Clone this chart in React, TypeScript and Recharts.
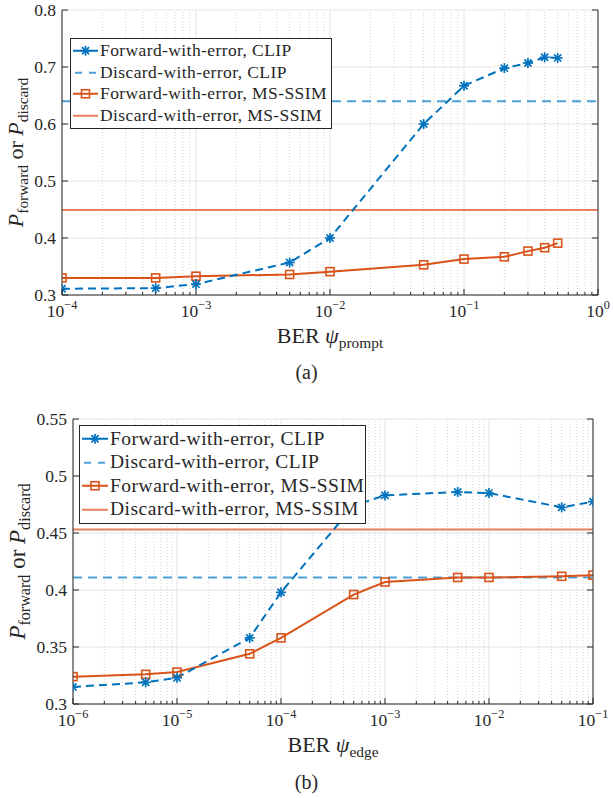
import React from "react";
import {
  CartesianGrid,
  Legend,
  Line,
  LineChart,
  ReferenceLine,
  XAxis,
  YAxis,
} from "recharts";

const FONT = "'Liberation Serif', 'DejaVu Serif', serif";
const INK = "#262626";
const BLUE = "#0072BD";
const BLUE_LIGHT = "#4D9FD6";
const ORANGE = "#D95319";
const ORANGE_LIGHT = "#E8805C";

// (a) BER on the prompt
const berPrompt = [1e-4, 5e-4, 1e-3, 5e-3, 1e-2, 5e-2, 1e-1, 2e-1, 3e-1, 4e-1, 5e-1];
const clipForwardA = [0.311, 0.312, 0.319, 0.357, 0.4, 0.6, 0.667, 0.698, 0.707, 0.717, 0.716];
const msssimForwardA = [0.33, 0.33, 0.333, 0.336, 0.341, 0.353, 0.363, 0.367, 0.377, 0.383, 0.391];
const clipDiscardA = 0.64;
const msssimDiscardA = 0.449;
const xMajorA = [1e-4, 1e-3, 1e-2, 1e-1, 1];
const yTicksA = [0.3, 0.4, 0.5, 0.6, 0.7, 0.8];

// (b) BER on the edge
const berEdge = [1e-6, 5e-6, 1e-5, 5e-5, 1e-4, 5e-4, 1e-3, 5e-3, 1e-2, 5e-2, 1e-1];
const clipForwardB = [0.315, 0.319, 0.323, 0.358, 0.398, 0.474, 0.483, 0.486, 0.485, 0.4725, 0.4775];
const msssimForwardB = [0.324, 0.326, 0.328, 0.344, 0.358, 0.396, 0.407, 0.411, 0.411, 0.412, 0.413];
const clipDiscardB = 0.411;
const msssimDiscardB = 0.453;
const xMajorB = [1e-6, 1e-5, 1e-4, 1e-3, 1e-2, 1e-1];
const yTicksB = [0.3, 0.35, 0.4, 0.45, 0.5, 0.55];

const legendLabels = [
  "Forward-with-error, CLIP",
  "Discard-with-error, CLIP",
  "Forward-with-error, MS-SSIM",
  "Discard-with-error, MS-SSIM",
];

const isMajor = (v: number) => {
  const e = Math.log10(v);
  return Math.abs(e - Math.round(e)) < 1e-6;
};

function withMinor(majors: number[]) {
  const out: number[] = [];
  majors.forEach((m, i) => {
    out.push(m);
    if (i < majors.length - 1) for (let k = 2; k <= 9; k++) out.push(m * k);
  });
  return out;
}

const Star = ({ cx, cy, r = 5 }: any) => {
  const d = r * 0.72;
  return (
    <g stroke={BLUE} strokeWidth={1.7}>
      <line x1={cx - r} y1={cy} x2={cx + r} y2={cy} />
      <line x1={cx} y1={cy - r} x2={cx} y2={cy + r} />
      <line x1={cx - d} y1={cy - d} x2={cx + d} y2={cy + d} />
      <line x1={cx - d} y1={cy + d} x2={cx + d} y2={cy - d} />
    </g>
  );
};

const Square = ({ cx, cy, s = 8 }: any) => (
  <rect x={cx - s / 2} y={cy - s / 2} width={s} height={s} fill="none" stroke={ORANGE} strokeWidth={1.6} />
);

const fmtExp = (e: number) => (e < 0 ? "\u2212" + Math.abs(e) : String(e));

function bottomTick(fs: number) {
  return (props: any) => {
    const { x, y, payload } = props;
    const v = payload.value;
    const major = isMajor(v);
    return (
      <g>
        <line x1={x} x2={x} y1={y} y2={y - (major ? 6 : 3)} stroke={INK} />
        {major && (
          <text x={x} y={y + 22} textAnchor="middle" fontFamily={FONT} fontSize={fs} fill={INK}>
            10
            <tspan dy={-8} fontSize={fs * 0.7}>
              {fmtExp(Math.round(Math.log10(v)))}
            </tspan>
          </text>
        )}
      </g>
    );
  };
}

const topTick = (props: any) => {
  const { x, y, payload } = props;
  return <line x1={x} x2={x} y1={y} y2={y + (isMajor(payload.value) ? 6 : 3)} stroke={INK} />;
};

function leftTick(fs: number) {
  return (props: any) => {
    const { x, y, payload } = props;
    return (
      <g>
        <line x1={x} x2={x + 6} y1={y} y2={y} stroke={INK} />
        <text x={x - 6} y={y} dy="0.33em" textAnchor="end" fontFamily={FONT} fontSize={fs} fill={INK}>
          {String(payload.value)}
        </text>
      </g>
    );
  };
}

const rightTick = (props: any) => {
  const { x, y } = props;
  return <line x1={x} x2={x - 6} y1={y} y2={y} stroke={INK} />;
};

const XLabel = ({ viewBox, sub, fs }: any) => {
  const vb = viewBox || { x: 0, y: 0, width: 0, height: 0 };
  return (
    <text x={vb.x + vb.width / 2} y={vb.y + 48} textAnchor="middle" fontFamily={FONT} fontSize={fs} fill={INK}>
      BER <tspan fontStyle="italic">ψ</tspan>
      <tspan fontSize={fs * 0.7} dy={5}>
        {sub}
      </tspan>
    </text>
  );
};

const YLabel = ({ viewBox, fs, bx }: any) => {
  const vb = viewBox || { x: 0, y: 0, width: 0, height: 0 };
  const cx = vb.x + bx;
  const cy = vb.y + vb.height / 2;
  const sub = fs * 0.7;
  return (
    <text
      x={cx}
      y={cy}
      transform={`rotate(-90 ${cx} ${cy})`}
      textAnchor="middle"
      fontFamily={FONT}
      fontSize={fs}
      fill={INK}
    >
      <tspan fontStyle="italic">P</tspan>
      <tspan fontSize={sub} dy={5}>
        forward
      </tspan>
      <tspan dy={-5}> or </tspan>
      <tspan fontStyle="italic">P</tspan>
      <tspan fontSize={sub} dy={5}>
        discard
      </tspan>
    </text>
  );
};

function sample(i: number, w: number, h: number) {
  const m = h / 2;
  if (i === 0)
    return (
      <g>
        <line x1={0} x2={w} y1={m} y2={m} stroke={BLUE} strokeWidth={2} />
        <Star cx={w / 2} cy={m} />
      </g>
    );
  if (i === 1) return <line x1={2} x2={w} y1={m} y2={m} stroke={BLUE_LIGHT} strokeWidth={2} strokeDasharray="7 7" />;
  if (i === 2)
    return (
      <g>
        <line x1={0} x2={w} y1={m} y2={m} stroke={ORANGE} strokeWidth={2} />
        <Square cx={w / 2} cy={m} />
      </g>
    );
  return <line x1={0} x2={w} y1={m} y2={m} stroke={ORANGE_LIGHT} strokeWidth={2} />;
}

type LegendCfg = { left: number; top: number; width: number; row: number; fs: number; ls: number; sample: number };

const LegendBox = ({ cfg }: { cfg: LegendCfg }) => (
  <div
    style={{
      width: cfg.width,
      boxSizing: "border-box",
      border: `1px solid ${INK}`,
      background: "#fff",
      padding: "1px 0 2px 0",
      fontFamily: FONT,
      fontSize: cfg.fs,
      letterSpacing: cfg.ls,
      color: INK,
    }}
  >
    {legendLabels.map((lab, i) => (
      <div key={lab} style={{ display: "flex", alignItems: "center", height: cfg.row, whiteSpace: "nowrap" }}>
        <svg width={cfg.sample} height={cfg.row} style={{ marginLeft: 2, marginRight: 2, flex: "none" }}>
          {sample(i, cfg.sample, cfg.row)}
        </svg>
        <span style={{ fontFamily: FONT }}>{lab}</span>
      </div>
    ))}
  </div>
);

type PanelProps = {
  ber: number[];
  clip: number[];
  ms: number[];
  clipDiscard: number;
  msDiscard: number;
  xMajor: number[];
  yTicks: number[];
  height: number;
  top: number;
  leftW: number;
  rightW: number;
  bottomH: number;
  xSub: string;
  tickFs: number;
  labelFs: number;
  yLabelFs: number;
  yLabelX: number;
  legend: LegendCfg;
};

function Panel(p: PanelProps) {
  const data = p.ber.map((b, i) => ({ ber: b, clip: p.clip[i], ms: p.ms[i] }));
  const xAll = withMinor(p.xMajor);
  const xMinor = xAll.filter((v) => !isMajor(v));
  const xDomain = [p.xMajor[0], p.xMajor[p.xMajor.length - 1]];
  const yDomain = [p.yTicks[0], p.yTicks[p.yTicks.length - 1]];
  return (
    <LineChart
      width={613}
      height={p.height}
      data={data}
      margin={{ top: p.top, right: 0, bottom: 0, left: 0 }}
      style={{ fontFamily: FONT }}
    >
      <CartesianGrid vertical={false} stroke="#e4e4e4" />
      {xMinor.map((v) => (
        <ReferenceLine key={`mn${v}`} x={v} stroke="#d2d2d2" strokeDasharray="1 2" />
      ))}
      {p.xMajor.map((v) => (
        <ReferenceLine key={`mj${v}`} x={v} stroke="#e4e4e4" />
      ))}
      <XAxis
        dataKey="ber"
        type="number"
        scale="log"
        domain={xDomain}
        allowDataOverflow
        ticks={xAll}
        interval={0}
        tickSize={0}
        tickMargin={0}
        height={p.bottomH}
        stroke={INK}
        tick={bottomTick(p.tickFs)}
        label={<XLabel sub={p.xSub} fs={p.labelFs} />}
      />
      <XAxis
        xAxisId="top"
        orientation="top"
        dataKey="ber"
        type="number"
        scale="log"
        domain={xDomain}
        allowDataOverflow
        ticks={xAll}
        interval={0}
        tickSize={0}
        tickMargin={0}
        height={0}
        stroke={INK}
        tick={topTick}
      />
      <YAxis
        type="number"
        domain={yDomain}
        allowDataOverflow
        ticks={p.yTicks}
        interval={0}
        tickSize={0}
        tickMargin={0}
        width={p.leftW}
        stroke={INK}
        tick={leftTick(p.tickFs)}
        label={<YLabel fs={p.yLabelFs} bx={p.yLabelX} />}
      />
      <YAxis
        yAxisId="right"
        orientation="right"
        type="number"
        domain={yDomain}
        allowDataOverflow
        ticks={p.yTicks}
        interval={0}
        tickSize={0}
        tickMargin={0}
        width={p.rightW}
        stroke={INK}
        tick={rightTick}
      />
      <ReferenceLine y={p.clipDiscard} stroke={BLUE_LIGHT} strokeWidth={2} strokeDasharray="9 6" />
      <ReferenceLine y={p.msDiscard} stroke={ORANGE_LIGHT} strokeWidth={2} />
      <Line
        dataKey="ms"
        stroke={ORANGE}
        strokeWidth={2}
        dot={(d: any) => <Square key={`s${d.index}`} cx={d.cx} cy={d.cy} />}
        activeDot={false}
        isAnimationActive={false}
      />
      <Line
        dataKey="clip"
        stroke={BLUE}
        strokeWidth={2}
        strokeDasharray="8 5"
        dot={(d: any) => <Star key={`c${d.index}`} cx={d.cx} cy={d.cy} />}
        activeDot={false}
        isAnimationActive={false}
      />
      <Legend
        layout="vertical"
        align="center"
        verticalAlign="middle"
        wrapperStyle={{ left: p.legend.left, top: p.legend.top, width: p.legend.width }}
        content={() => <LegendBox cfg={p.legend} />}
      />
    </LineChart>
  );
}

const captionStyle: React.CSSProperties = {
  position: "absolute",
  left: 0,
  width: 613,
  textAlign: "center",
  fontFamily: FONT,
  fontSize: 20,
  lineHeight: "20px",
  color: INK,
};

export default function App() {
  return (
    <div style={{ position: "absolute", left: 0, top: 0, width: 613, height: 798, background: "#fff", fontFamily: FONT }}>
      <div style={{ position: "absolute", left: 0, top: 0 }}>
        <Panel
          ber={berPrompt}
          clip={clipForwardA}
          ms={msssimForwardA}
          clipDiscard={clipDiscardA}
          msDiscard={msssimDiscardA}
          xMajor={xMajorA}
          yTicks={yTicksA}
          height={390}
          top={10}
          leftW={62}
          rightW={15}
          bottomH={95}
          xSub="prompt"
          tickFs={17.5}
          labelFs={22}
          yLabelFs={22}
          yLabelX={23}
          legend={{ left: 70, top: 38, width: 262, row: 21.5, fs: 17.5, ls: 0.4, sample: 25 }}
        />
      </div>
      <div style={{ ...captionStyle, top: 362 }}>(a)</div>
      <div style={{ position: "absolute", left: 0, top: 400 }}>
        <Panel
          ber={berEdge}
          clip={clipForwardB}
          ms={msssimForwardB}
          clipDiscard={clipDiscardB}
          msDiscard={msssimDiscardB}
          xMajor={xMajorB}
          yTicks={yTicksB}
          height={398}
          top={19}
          leftW={73}
          rightW={20}
          bottomH={94}
          xSub="edge"
          tickFs={17.5}
          labelFs={22}
          yLabelFs={23}
          yLabelX={25}
          legend={{ left: 79, top: 25, width: 287, row: 23.5, fs: 19.5, ls: 0.5, sample: 26 }}
        />
      </div>
      <div style={{ ...captionStyle, top: 772 }}>(b)</div>
    </div>
  );
}
